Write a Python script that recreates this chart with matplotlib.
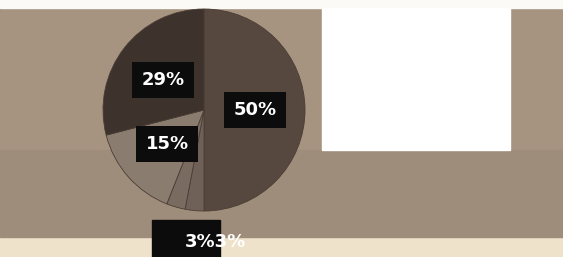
import matplotlib
matplotlib.use("Agg")
import matplotlib.pyplot as plt
from matplotlib.patches import Rectangle

# slice data, clockwise from 12 o'clock
shares = [50, 3, 3, 15, 29]
labels = ["50%", "3%", "3%", "15%", "29%"]
slice_colors = ["#57483f", "#6f6157", "#7a6b60", "#8b7c70", "#3d322c"]

W, H = 563, 257
fig = plt.figure(figsize=(W / 100, H / 100), dpi=100)
fig.patch.set_facecolor("#a79480")
ax = fig.add_axes([0, 0, 1, 1])

# photo background pieces (pixel coords, y measured from bottom)
ax.add_patch(Rectangle((0, 0), W, 20, color="#eee2cb", zorder=0))
ax.add_patch(Rectangle((0, 249), W, 8, color="#fbfaf7", zorder=0))
ax.add_patch(Rectangle((0, 20), W, 87, color="#9f8d7b", zorder=0))
ax.add_patch(Rectangle((322, 107), 188, 142, color="#ffffff", zorder=1))

wedges, _ = ax.pie(shares, colors=slice_colors, startangle=90, counterclock=False,
                   center=(204, 147), radius=101, frame=True,
                   wedgeprops=dict(edgecolor="#4a3d35", linewidth=0.6))
for w in wedges:
    w.set_zorder(2)
ax.set_xlim(0, W)
ax.set_ylim(0, H)
ax.set_aspect("auto")
ax.axis("off")

box = dict(boxstyle="square,pad=0.5", facecolor="#0c0c0c", edgecolor="none")
txt = dict(color="white", fontsize=13, fontweight="bold", ha="center", va="center", zorder=5)
ax.text(255, 147, labels[0], bbox=box, **txt)
ax.text(163, 177, labels[4], bbox=box, **txt)
ax.text(167, 113, labels[3], bbox=box, **txt)

ax.add_patch(Rectangle((152, 0), 68, 37, color="#0c0c0c", zorder=4))
ax.text(185, 15, labels[1] + labels[2], color="white", fontsize=13, fontweight="bold",
        ha="left", va="center", zorder=5)

fig.savefig("out.png", dpi=100, facecolor=fig.get_facecolor())
